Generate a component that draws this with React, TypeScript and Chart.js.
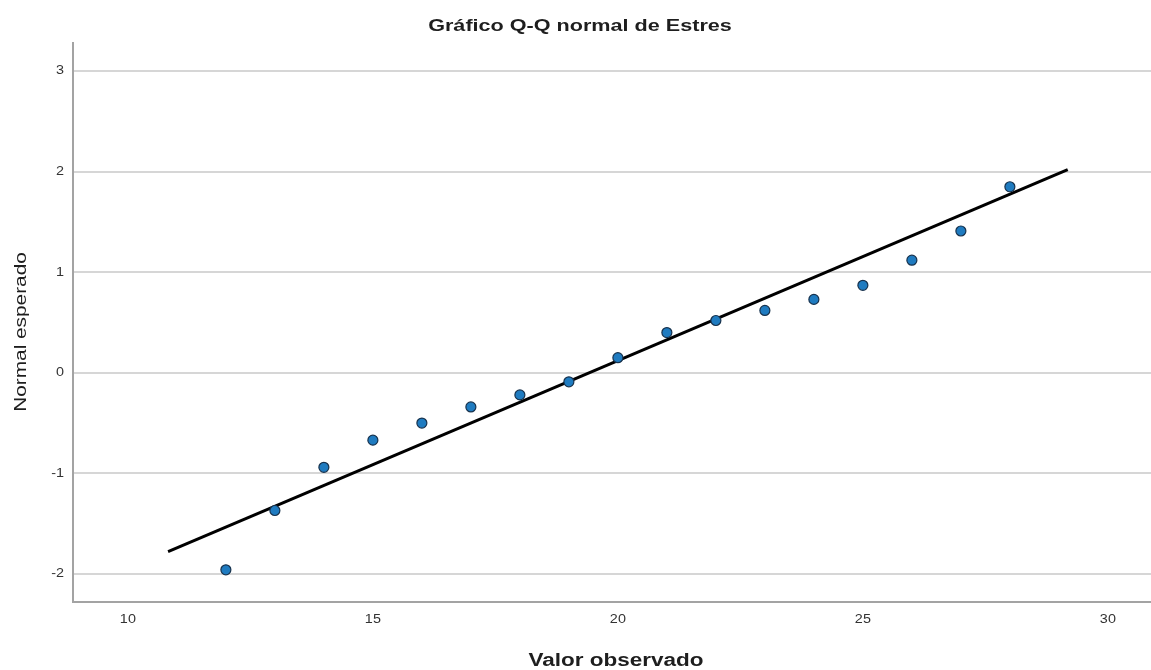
import React, { useEffect, useRef } from "react";
import { Chart, registerables } from "chart.js";

Chart.register(...registerables);

// Observed values of Estres and their expected normal scores
const observedValues = [12, 13, 14, 15, 16, 17, 18, 19, 20, 21, 22, 23, 24, 25, 26, 27, 28];
const expectedNormal = [-1.96, -1.37, -0.94, -0.67, -0.5, -0.34, -0.22, -0.09, 0.15, 0.4, 0.52, 0.62, 0.73, 0.87, 1.12, 1.41, 1.85];

// Reference line end points
const refLineX = [10.82, 29.18];
const refLineY = [-1.78, 2.02];

const xTicks = [10, 15, 20, 25, 30];
const yTicks = [-2, -1, 0, 1, 2, 3];

const chartTitle = "Gráfico Q-Q normal de Estres";
const xTitle = "Valor observado";
const yTitle = "Normal esperado";

const FONT = "'Liberation Sans', Arial, sans-serif";

// Draws a horizontally widened string (wide sans face) aligned at a point
function drawWide(
  ctx: CanvasRenderingContext2D,
  text: string,
  x: number,
  y: number,
  font: string,
  sx: number,
  align: CanvasTextAlign,
  baseline: CanvasTextBaseline,
  color: string,
  rotation = 0
) {
  ctx.save();
  ctx.translate(x, y);
  if (rotation) ctx.rotate(rotation);
  ctx.scale(sx, 1);
  ctx.font = font;
  ctx.fillStyle = color;
  ctx.textAlign = align;
  ctx.textBaseline = baseline;
  ctx.fillText(text, 0, 0);
  ctx.restore();
}

const labelsPlugin = {
  id: "wideLabels",
  afterDraw(chart: any) {
    const ctx = chart.ctx as CanvasRenderingContext2D;
    const xs = chart.scales.x;
    const ys = chart.scales.y;
    const area = chart.chartArea;

    // tick labels
    const tickFont = `12px ${FONT}`;
    xTicks.forEach((v) => {
      drawWide(ctx, String(v), xs.getPixelForValue(v), 620, tickFont, 1.2, "center", "middle", "#333333");
    });
    yTicks.forEach((v) => {
      drawWide(ctx, String(v), 64, ys.getPixelForValue(v), tickFont, 1.2, "right", "middle", "#333333");
    });

    // titles
    drawWide(ctx, chartTitle, 580, 31, `bold 16px ${FONT}`, 1.35, "center", "alphabetic", "#1e1e1e");
    drawWide(ctx, xTitle, (area.left + area.right) / 2 + 4, 666, `bold 18px ${FONT}`, 1.25, "center", "alphabetic", "#1e1e1e");
    drawWide(ctx, yTitle, 26, 332, `16px ${FONT}`, 1.3, "center", "alphabetic", "#1e1e1e", -Math.PI / 2);
  },
};

export default function App() {
  const canvasRef = useRef<HTMLCanvasElement | null>(null);

  useEffect(() => {
    document.body.style.margin = "0";
    const canvas = canvasRef.current;
    if (!canvas) return;

    const chart = new Chart(canvas, {
      type: "scatter",
      data: {
        datasets: [
          {
            type: "line",
            label: "Referencia",
            data: refLineX.map((x, i) => ({ x, y: refLineY[i] })),
            borderColor: "#000000",
            borderWidth: 3,
            pointRadius: 0,
            fill: false,
            order: 2,
          },
          {
            label: "Estres",
            data: observedValues.map((x, i) => ({ x, y: expectedNormal[i] })),
            backgroundColor: "#1f7bc0",
            borderColor: "#17324d",
            borderWidth: 1.2,
            pointRadius: 5,
            order: 1,
          },
        ],
      },
      options: {
        animation: false,
        responsive: false,
        maintainAspectRatio: false,
        layout: { autoPadding: false, padding: { left: 0, right: 0, top: 43, bottom: 0 } },
        plugins: {
          legend: { display: false },
          tooltip: { enabled: false },
          title: { display: false },
        },
        scales: {
          x: {
            type: "linear",
            min: 8.88,
            max: 30.88,
            afterBuildTicks: (scale: any) => {
              scale.ticks = xTicks.map((v) => ({ value: v }));
            },
            afterFit: (scale: any) => {
              scale.height = 68;
              scale.paddingLeft = 0;
              scale.paddingRight = 0;
            },
            grid: { display: true, color: "rgba(0,0,0,0)", drawTicks: false },
            border: { display: true, color: "#a3a3a3", width: 2 },
            ticks: { display: false },
            title: { display: false },
          },
          y: {
            type: "linear",
            min: -2.28,
            max: 3.28,
            afterBuildTicks: (scale: any) => {
              scale.ticks = yTicks.map((v) => ({ value: v }));
            },
            afterFit: (scale: any) => {
              scale.width = 73;
              scale.paddingTop = 0;
              scale.paddingBottom = 0;
            },
            grid: { color: "#d6d6d6", lineWidth: 2, drawTicks: false },
            border: { display: true, color: "#a3a3a3", width: 2 },
            ticks: { display: false },
            title: { display: false },
          },
        },
      },
      plugins: [labelsPlugin],
    });

    return () => chart.destroy();
  }, []);

  return (
    <div style={{ position: "absolute", left: 0, top: 0, width: 1151, height: 670, background: "#ffffff" }}>
      <canvas ref={canvasRef} width={1151} height={670} style={{ width: 1151, height: 670 }} />
    </div>
  );
}
